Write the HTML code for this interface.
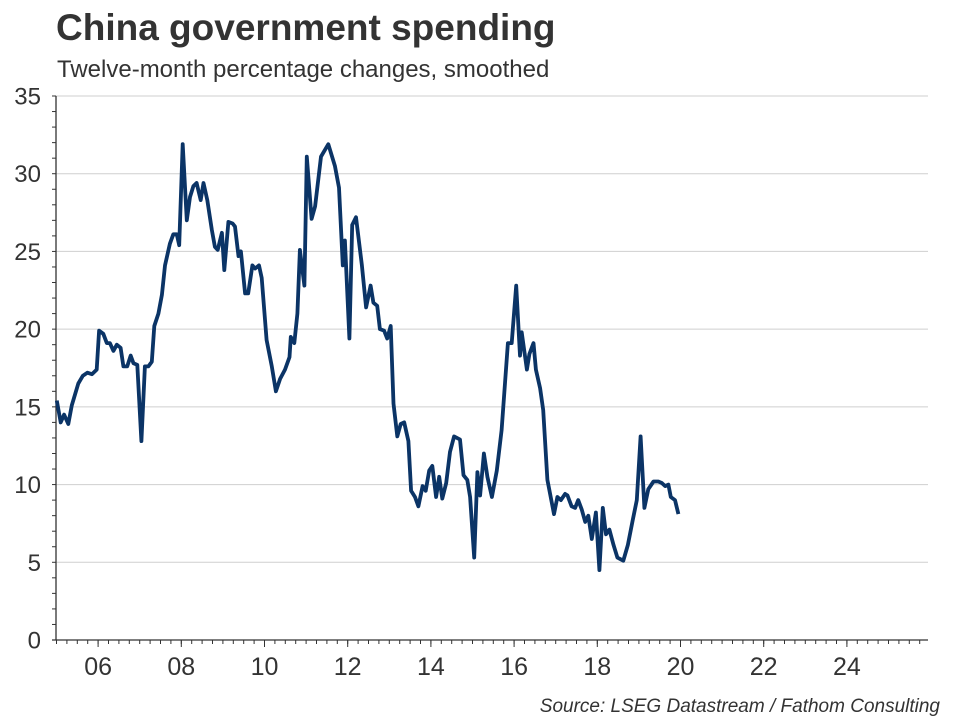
<!DOCTYPE html>
<html><head><meta charset="utf-8"><style>
body{margin:0;background:#fff;width:960px;height:720px;overflow:hidden;font-family:"Liberation Sans",Arial,sans-serif}
svg{display:block}
</style></head><body>
<svg id="chart" width="960" height="720">
<text x="56" y="40" font-size="37" font-weight="bold" fill="#333">China government spending</text>
<text x="57" y="77" font-size="24" fill="#333">Twelve-month percentage changes, smoothed</text>
<text x="940" y="712" font-size="19" font-style="italic" fill="#333" text-anchor="end">Source: LSEG Datastream / Fathom Consulting</text>
<g id="grid"></g><g id="axes"></g><g id="series"></g>
</svg>
<script>
const monthIndex=[0.1,1.2,2.2,3.4,4.4,6.3,7.6,8.9,10.2,11.6,12.3,13.5,14.5,15.4,16.4,17.4,18.5,19.3,20.4,21.4,22.2,23.3,24.5,25.5,26.5,27.5,28.2,29.4,30.4,31.3,32.7,33.7,34.7,35.4,36.4,37.6,38.5,39.5,40.4,41.6,42.4,43.5,44.8,45.7,46.5,47.7,48.4,49.6,50.8,51.5,52.5,53.2,54.4,55.3,56.5,57.3,58.4,59.2,60.6,62.1,63.3,64.5,65.9,67.2,67.6,68.6,69.5,70.2,71.5,72.2,73.6,74.6,76.3,78.4,80.3,81.5,82.6,83.2,84.5,85.3,86.4,88.1,89.3,90.6,91.4,92.5,93.3,94.5,95.4,96.4,97.2,98.3,99.3,100.3,101.5,102.3,103.4,104.4,105.6,106.5,107.5,108.4,109.5,110.4,111.3,112.4,113.5,114.7,116.4,117.4,118.5,119.3,120.5,121.4,122.2,123.3,124.3,125.6,127.0,128.4,130.2,131.3,132.6,133.7,134.2,135.7,136.4,137.6,138.3,139.5,140.4,141.6,143.5,144.5,145.5,146.7,147.4,148.6,149.6,150.5,151.5,152.5,153.4,154.4,155.6,156.6,157.6,158.5,159.5,160.7,161.8,163.5,164.8,166.2,167.4,168.5,169.6,170.7,172.2,173.6,174.6,175.6,176.5,177.2,178.4,179.4];
const spending=[15.4,14.0,14.5,13.9,15.1,16.5,17.0,17.2,17.1,17.4,19.9,19.7,19.1,19.1,18.6,19.0,18.8,17.6,17.6,18.3,17.8,17.7,12.8,17.6,17.6,17.9,20.2,21.0,22.2,24.1,25.5,26.1,26.1,25.4,31.9,27.0,28.5,29.2,29.4,28.3,29.4,28.3,26.4,25.3,25.1,26.2,23.8,26.9,26.8,26.6,24.7,25.0,22.3,22.3,24.1,23.9,24.1,23.3,19.3,17.6,16.0,16.8,17.4,18.2,19.5,19.1,21.0,25.1,22.8,31.1,27.1,27.9,31.1,31.9,30.5,29.1,24.1,25.7,19.4,26.7,27.2,24.1,21.4,22.8,21.7,21.5,20.0,19.9,19.4,20.2,15.2,13.1,13.9,14.0,12.8,9.6,9.2,8.6,9.9,9.6,10.9,11.2,9.2,10.5,9.1,10.1,12.1,13.1,12.9,10.6,10.3,9.2,5.3,10.8,9.3,12.0,10.5,9.2,10.9,13.5,19.1,19.1,22.8,18.3,19.8,17.4,18.4,19.1,17.4,16.2,14.8,10.3,8.1,9.2,9.0,9.4,9.3,8.6,8.5,9.0,8.4,7.6,8.0,6.5,8.2,4.5,8.5,6.8,7.1,6.1,5.3,5.1,6.1,7.7,9.0,13.1,8.5,9.7,10.2,10.2,10.1,9.9,10.0,9.2,9.0,8.1];
const yTicks=[0,5,10,15,20,25,30,35];
const xTickYears=[2006,2008,2010,2012,2014,2016,2018,2020,2022,2024];
const xTickLabels=["06","08","10","12","14","16","18","20","22","24"];
const startYear=2005;
const L=56,R=928,T=96,B=640,yMax=35,pxPerYear=41.6;
const NS="http://www.w3.org/2000/svg";
function sx(year){return L+0.5+(year-startYear)*pxPerYear;}
function sy(v){return B-(v/yMax)*(B-T);}
function mk(tag,attrs,parent){const e=document.createElementNS(NS,tag);for(const k in attrs)e.setAttribute(k,attrs[k]);parent.appendChild(e);return e;}
const grid=document.getElementById('grid'),axes=document.getElementById('axes'),series=document.getElementById('series');
yTicks.forEach(v=>{
  if(v>0){const g=mk('line',{x1:L,x2:R,y1:sy(v),y2:sy(v),stroke:'#cfcfcf','stroke-width':1},grid);
  
  }
  const t=mk('text',{x:41,y:sy(v)+8.5,'font-size':24,fill:'#333','text-anchor':'end'},axes);t.textContent=v;
  
  
});
for(let v=0;v<=yMax;v++){mk('line',{x1:L-4,x2:L,y1:sy(v),y2:sy(v),stroke:'#333','stroke-width':1},axes);}
for(let q=0;q<=84;q++){const x=sx(startYear+q/4);if(x>R)break;mk('line',{x1:x,x2:x,y1:B,y2:B+4,stroke:'#333','stroke-width':1},axes);}
xTickYears.forEach((yr,i)=>{const x=sx(yr);
  mk('line',{x1:x,x2:x,y1:B,y2:B+7,stroke:'#333','stroke-width':1},axes);
  const t=mk('text',{x:x,y:B+35,'font-size':25,fill:'#333','text-anchor':'middle'},axes);t.textContent=xTickLabels[i];
  
  
});
const ya=mk('line',{x1:L,x2:L,y1:T,y2:B,stroke:'#333','stroke-width':1.3},axes);


const xa=mk('line',{x1:L-4,x2:R,y1:B,y2:B,stroke:'#333','stroke-width':1.3},axes);


const d=spending.map((v,i)=>(i?'L':'M')+sx(startYear+monthIndex[i]/12).toFixed(1)+','+sy(v).toFixed(1)).join(' ');
const p=mk('path',{d:d,fill:'none',stroke:'#0b3466','stroke-width':3.8,'stroke-linejoin':'round'},series);


</script>
</body></html>
